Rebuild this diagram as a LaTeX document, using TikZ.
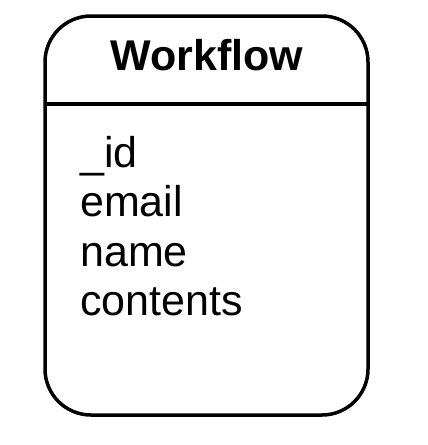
\documentclass[tikz,border=0pt]{standalone}
\usepackage{fontspec}
\setmainfont{Liberation Sans}
\begin{document}
\begin{tikzpicture}[x=1pt,y=-1pt,
  frame/.style={draw=black,line width=3.5pt,rounded corners=46pt},
  title/.style={font=\fontsize{43}{48}\selectfont\bfseries,anchor=base,inner sep=0pt},
  field/.style={font=\fontsize{43}{48}\selectfont,anchor=base west,inner sep=0pt}]
\useasboundingbox (0,0) rectangle (428,445);
\draw[frame] (45,16) rectangle (368,415);
\coordinate (dl) at (45,104);
\coordinate (dr) at (368,104);
\draw[line width=3.5pt] (dl) -- (dr);
\node[title] (t) at (207,70) {Workflow};
\node[field] (f1) at (80,167) {\_id};
\node[field] (f2) at (80,216.5) {email};
\node[field] (f3) at (80,266) {name};
\node[field] (f4) at (80,315.5) {contents};
\end{tikzpicture}
\end{document}
